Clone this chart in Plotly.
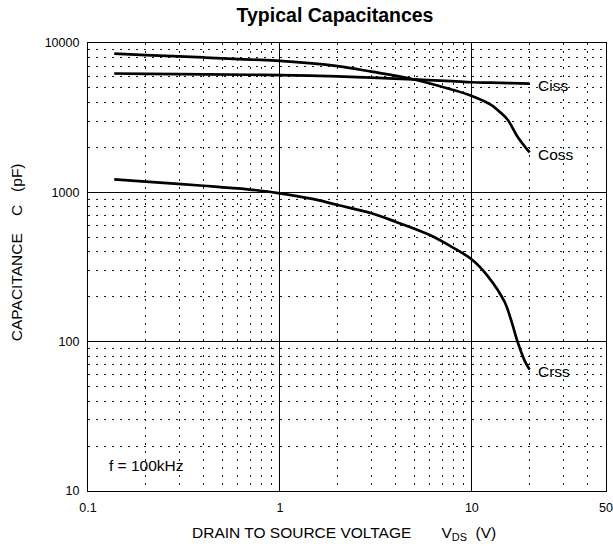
import math
import plotly.graph_objects as go

# ---- data ----
ciss_v = [0.137, 0.2, 0.4, 0.7, 1, 2, 3, 5, 7.8, 10, 12.6, 16, 20]
ciss_c = [6250, 6220, 6170, 6130, 6100, 5980, 5860, 5700, 5560, 5460, 5420, 5380, 5350]

coss_v = [0.137, 0.2, 0.4, 0.7, 1, 2, 3, 5, 7.76, 10, 12.6, 14, 15.4, 17.3, 20]
coss_c = [8500, 8300, 8000, 7750, 7590, 7000, 6430, 5700, 4900, 4420, 3850, 3450, 3050, 2360, 1850]

crss_v = [0.137, 0.2, 0.4, 0.68, 1, 1.5, 2, 3, 4, 6, 7.9, 10, 12.1, 14.8, 16, 17.3, 18.8, 20]
crss_c = [1222, 1178, 1107, 1047, 985, 900, 822, 724, 636, 520, 430, 355, 275, 185, 140, 100, 75, 65]

x_major = [0.1, 1, 10, 50]
x_major_labels = ["0.1", "1", "10", "50"]
x_minor = [0.2, 0.3, 0.4, 0.5, 0.6, 0.7, 0.8, 0.9, 2, 3, 4, 5, 6, 7, 8, 9, 20, 30, 40]
y_major = [10, 100, 1000, 10000]
y_major_labels = ["10", "100", "1000", "10000"]
y_minor = [m * d for d in (10, 100, 1000) for m in range(2, 10)]

series = [("Ciss", ciss_v, ciss_c), ("Coss", coss_v, coss_c), ("Crss", crss_v, crss_c)]

FONT = "Liberation Sans, Arial, sans-serif"
NB = "\u00a0"

fig = go.Figure()
for name, xs, ys in series:
    fig.add_trace(go.Scatter(x=xs, y=ys, mode="lines", name=name,
                             line=dict(color="black", width=2.7, shape="spline", smoothing=1.0),
                             showlegend=False, hoverinfo="skip"))
    fig.add_annotation(x=math.log10(xs[-1]), y=math.log10(ys[-1]), xref="x", yref="y", text=name,
                       showarrow=False, xanchor="left", yanchor="middle", xshift=6, yshift=-2,
                       font=dict(family=FONT, size=15.5, color="black"))

fig.add_annotation(x=math.log10(0.125), y=math.log10(15.5), xref="x", yref="y", text="f = 100kHz",
                   showarrow=False, xanchor="left", yanchor="middle", yshift=-3,
                   font=dict(family=FONT, size=15.5, color="black"))

# axis titles
fig.add_annotation(x=0.495, y=-0.094, xref="paper", yref="paper", showarrow=False,
                   xanchor="center", yanchor="middle",
                   text="DRAIN TO SOURCE VOLTAGE" + NB * 7 + "V<sub>DS</sub>" + NB * 2 + "(V)",
                   font=dict(family=FONT, size=15.5, color="black"))
fig.add_annotation(x=-0.138, y=0.532, xref="paper", yref="paper", showarrow=False,
                   xanchor="center", yanchor="middle", textangle=-90,
                   text="CAPACITANCE" + NB * 4 + "C" + NB * 3 + "(pF)",
                   font=dict(family=FONT, size=15.5, color="black"))

axis_common = dict(type="log", showline=True, mirror=True, linecolor="black", linewidth=1.2,
                   showgrid=True, gridcolor="black", gridwidth=1, ticks="", zeroline=False,
                   ticklabeloverflow="allow",
                   tickfont=dict(family=FONT, size=12.5, color="black"))
minor_common = dict(tickmode="array", showgrid=True, gridcolor="#1a1a1a",
                    griddash="1.5px,6.5px", gridwidth=1.3, ticks="")

fig.update_xaxes(range=[-1, math.log10(50)], tickmode="array", tickvals=x_major, ticktext=x_major_labels,
                 minor=dict(tickvals=x_minor, **minor_common), ticklabelstandoff=5,
                 **axis_common)
fig.update_yaxes(range=[1, 4], tickmode="array", tickvals=y_major, ticktext=y_major_labels,
                 minor=dict(tickvals=y_minor, **minor_common), ticklabelstandoff=5,
                 **axis_common)

fig.update_layout(
    width=613, height=546,
    margin=dict(l=88, r=7, t=43, b=55, autoexpand=False),
    paper_bgcolor="white", plot_bgcolor="white",
    title=dict(text="<b>Typical Capacitances</b>", x=0.5465, xanchor="center", y=1 - 15 / 546,
               yanchor="middle", font=dict(family=FONT, size=19.5, color="black")),
)

# remove the default page margin/scrollbars so the figure fills the window exactly
fig.write_html(
    "out.html",
    config={"displayModeBar": False},
    post_script=("document.body.style.margin='0';"
                 "document.body.style.overflow='hidden';"
                 "document.documentElement.style.overflow='hidden';"),
)
